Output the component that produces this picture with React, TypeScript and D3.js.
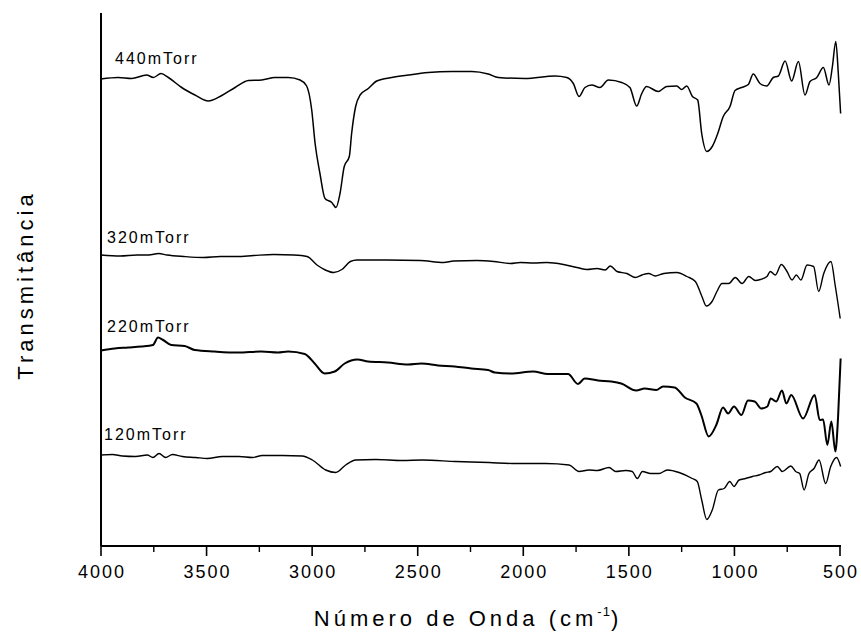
import React from 'react';
import * as d3 from 'd3';

// FTIR spectra of films deposited at four pressures: [wavenumber (cm-1), transmittance (a.u., offset)]
const s440: [number, number][] = [
  [4000, 93.4], [3918, 93.7], [3855, 93.5], [3784, 94.2], [3752, 93.7], [3716, 94.5], [3681, 93.7],
  [3618, 91.7], [3555, 90.2], [3492, 89.0], [3428, 90.1], [3365, 91.7], [3302, 93.1], [3239, 93.2],
  [3176, 93.7], [3113, 93.7], [3057, 93.2], [3026, 92.0], [3002, 87.2], [2986, 80.5], [2963, 74.5],
  [2939, 69.5], [2907, 68.7], [2887, 67.7], [2868, 70.5], [2848, 75.9], [2824, 77.9], [2813, 82.5],
  [2794, 87.9], [2773, 90.2], [2734, 91.5], [2694, 93.0], [2623, 93.7], [2545, 94.2], [2450, 94.7],
  [2339, 94.9], [2244, 94.9], [2166, 94.4], [2118, 93.7], [1992, 93.5], [1850, 94.0], [1794, 93.7],
  [1763, 92.5], [1736, 89.9], [1708, 91.7], [1676, 92.2], [1637, 91.7], [1597, 93.2], [1534, 92.7],
  [1495, 91.7], [1463, 88.0], [1439, 90.5], [1416, 91.9], [1361, 90.9], [1321, 91.9], [1273, 92.0],
  [1250, 91.3], [1226, 92.0], [1199, 89.9], [1174, 89.2], [1155, 82.5], [1131, 78.9], [1105, 79.9],
  [1079, 82.5], [1053, 85.9], [1021, 87.9], [997, 91.1], [966, 91.7], [934, 92.3], [911, 94.4],
  [879, 92.5], [847, 92.0], [816, 93.7], [792, 94.0], [760, 97.0], [729, 93.0], [697, 96.9],
  [666, 90.2], [642, 92.9], [610, 93.7], [579, 95.7], [552, 92.2], [536, 95.9], [520, 100.9],
  [508, 94.5], [497, 86.5],
];

const s320: [number, number][] = [
  [4000, 58.2], [3909, 58.0], [3830, 58.2], [3774, 58.2], [3727, 58.5], [3687, 58.2], [3608, 57.9],
  [3514, 57.7], [3435, 57.9], [3356, 57.9], [3277, 58.1], [3182, 58.3], [3087, 58.2], [3024, 57.9],
  [2977, 56.2], [2938, 55.2], [2898, 54.7], [2859, 55.3], [2819, 56.9], [2788, 57.2], [2645, 57.2],
  [2488, 57.1], [2377, 56.7], [2330, 57.0], [2219, 57.1], [2140, 56.9], [2061, 56.5], [2014, 56.7],
  [1951, 56.6], [1888, 56.7], [1809, 56.3], [1746, 55.7], [1698, 55.3], [1651, 55.5], [1612, 55.2],
  [1588, 56.0], [1556, 54.9], [1509, 54.5], [1469, 53.7], [1438, 54.2], [1406, 54.5], [1375, 54.0],
  [1335, 54.5], [1272, 54.7], [1225, 53.9], [1185, 52.9], [1154, 49.9], [1133, 48.0], [1106, 48.9],
  [1083, 50.9], [1059, 52.5], [1027, 52.5], [996, 53.7], [964, 52.5], [932, 53.9], [901, 53.1],
  [877, 53.3], [846, 53.9], [830, 54.9], [806, 54.2], [778, 56.3], [751, 54.9], [727, 53.2],
  [707, 54.2], [685, 53.2], [656, 56.2], [625, 55.9], [601, 50.9], [577, 54.5], [543, 56.9],
  [522, 51.9], [499, 45.5],
];

const s220: [number, number][] = [
  [4000, 39.1], [3935, 39.5], [3872, 39.7], [3809, 39.9], [3754, 40.2], [3730, 41.7], [3706, 41.2],
  [3667, 40.2], [3604, 40.0], [3556, 39.2], [3462, 38.9], [3351, 38.7], [3241, 38.9], [3162, 38.7],
  [3114, 38.9], [3035, 38.4], [2988, 36.5], [2941, 34.5], [2893, 34.9], [2846, 36.5], [2786, 37.3],
  [2735, 36.9], [2641, 36.7], [2546, 36.3], [2483, 36.5], [2404, 36.1], [2325, 35.9], [2246, 35.5],
  [2167, 35.2], [2135, 34.7], [2057, 34.5], [1954, 34.9], [1883, 34.4], [1788, 34.4], [1741, 32.4],
  [1709, 33.5], [1646, 33.1], [1583, 32.9], [1536, 32.5], [1465, 31.1], [1425, 31.5], [1370, 31.2],
  [1338, 31.9], [1283, 31.7], [1235, 29.7], [1180, 28.5], [1157, 26.2], [1122, 21.9], [1086, 24.2],
  [1054, 27.7], [1030, 26.5], [1002, 27.9], [967, 26.2], [936, 29.1], [904, 28.9], [873, 27.5],
  [844, 27.9], [828, 29.5], [802, 28.9], [775, 31.1], [754, 28.5], [731, 30.2], [675, 25.5],
  [620, 30.2], [596, 25.2], [580, 25.3], [560, 20.2], [541, 24.9], [522, 18.9], [509, 25.9],
  [497, 37.5],
];

const s120: [number, number][] = [
  [4000, 18.2], [3946, 18.3], [3899, 18.0], [3836, 17.9], [3781, 18.2], [3754, 17.7], [3725, 18.5],
  [3694, 17.7], [3662, 18.3], [3615, 17.9], [3551, 17.7], [3497, 17.5], [3425, 17.9], [3346, 17.9],
  [3283, 17.7], [3236, 18.1], [3141, 18.1], [3047, 18.0], [2999, 17.2], [2936, 15.2], [2888, 14.7],
  [2841, 16.2], [2794, 17.2], [2699, 17.3], [2573, 17.1], [2478, 17.2], [2320, 16.9], [2162, 16.7],
  [2052, 16.5], [1894, 16.5], [1783, 16.2], [1736, 14.9], [1689, 15.2], [1649, 15.1], [1594, 15.7],
  [1562, 14.9], [1515, 15.1], [1484, 14.9], [1460, 13.5], [1436, 14.9], [1397, 14.5], [1357, 14.5],
  [1318, 15.2], [1262, 14.7], [1200, 13.5], [1176, 12.9], [1155, 9.2], [1131, 5.3], [1105, 7.2],
  [1076, 11.2], [1049, 11.5], [1022, 12.9], [1002, 11.9], [978, 13.2], [947, 13.5], [915, 13.9],
  [884, 14.2], [852, 14.7], [828, 14.9], [797, 15.9], [773, 14.9], [733, 16.0], [710, 14.9],
  [691, 14.5], [670, 11.2], [647, 14.5], [623, 15.5], [599, 17.2], [568, 12.5], [544, 15.9],
  [516, 17.7], [497, 15.9],
];

const seriesNames = ['440mTorr', '320mTorr', '220mTorr', '120mTorr'];
const seriesData = [s440, s320, s220, s120];

const majorTicks = [4000, 3500, 3000, 2500, 2000, 1500, 1000, 500];
const minorTicks = [3750, 3250, 2750, 2250, 1750, 1250, 750];

const xTitle = 'Número de Onda (cm';
const yTitle = 'Transmitância';

// layout
const W = 861;
const H = 632;
const X0 = 101;
const X1 = 840;
const YBOT = 546;
const YTOP = 13;
// label placement relative to each trace's starting point (px)
const labelDx = [14, 6, 6, 3];
const labelDy = [-15, -12, -19, -15];
const strokeW = [1.5, 1.4, 2, 1.4];

const FONT = '"Liberation Sans", Arial, Helvetica, sans-serif';

export default function App() {
  const x = d3.scaleLinear().domain([4000, 500]).range([X0, X1]);
  const y = d3.scaleLinear().domain([0, (YBOT - YTOP) / 5]).range([YBOT, YTOP]);
  const line = d3
    .line<[number, number]>()
    .x((d) => x(d[0]))
    .y((d) => y(d[1]))
    .curve(d3.curveMonotoneX);

  return (
    <svg
      width={W}
      height={H}
      viewBox={`0 0 ${W} ${H}`}
      style={{ position: 'absolute', left: 0, top: 0, background: '#fff' }}
      fontFamily={FONT}
    >
      <rect x={0} y={0} width={W} height={H} fill="#fff" />

      {/* axes */}
      <line x1={X0} y1={YTOP} x2={X0} y2={YBOT} stroke="#000" strokeWidth={2} />
      <line x1={X0} y1={YBOT} x2={X1 + 1} y2={YBOT} stroke="#000" strokeWidth={1.8} />
      {majorTicks.map((t) => (
        <g key={`M${t}`}>
          <line x1={x(t)} x2={x(t)} y1={YBOT} y2={YBOT + 10} stroke="#000" strokeWidth={1.6} />
          <text
            x={x(t) + 1}
            y={578}
            fontSize={18}
            letterSpacing={2}
            textAnchor="middle"
            fill="#000"
          >
            {t}
          </text>
        </g>
      ))}
      {minorTicks.map((t) => (
        <line key={`m${t}`} x1={x(t)} x2={x(t)} y1={YBOT} y2={YBOT + 6} stroke="#000" strokeWidth={1.4} />
      ))}

      {/* spectra */}
      {seriesData.map((s, i) => (
        <g key={seriesNames[i]}>
          <path d={line(s) || ''} fill="none" stroke="#000" strokeWidth={strokeW[i]} strokeLinejoin="round" />
          <text
            x={x(s[0][0]) + labelDx[i]}
            y={y(s[0][1]) + labelDy[i]}
            fontSize={16}
            letterSpacing={2}
            fill="#000"
          >
            {seriesNames[i]}
          </text>
        </g>
      ))}

      {/* axis titles */}
      <text x={468} y={626} fontSize={22} letterSpacing={4} textAnchor="middle" fill="#000">
        {xTitle}
        <tspan fontSize={13} dy={-10} letterSpacing={1}>-1</tspan>
        <tspan dy={10}>)</tspan>
      </text>
      <text
        transform="translate(33,285) rotate(-90)"
        fontSize={22}
        letterSpacing={4}
        textAnchor="middle"
        fill="#000"
      >
        {yTitle}
      </text>
    </svg>
  );
}
